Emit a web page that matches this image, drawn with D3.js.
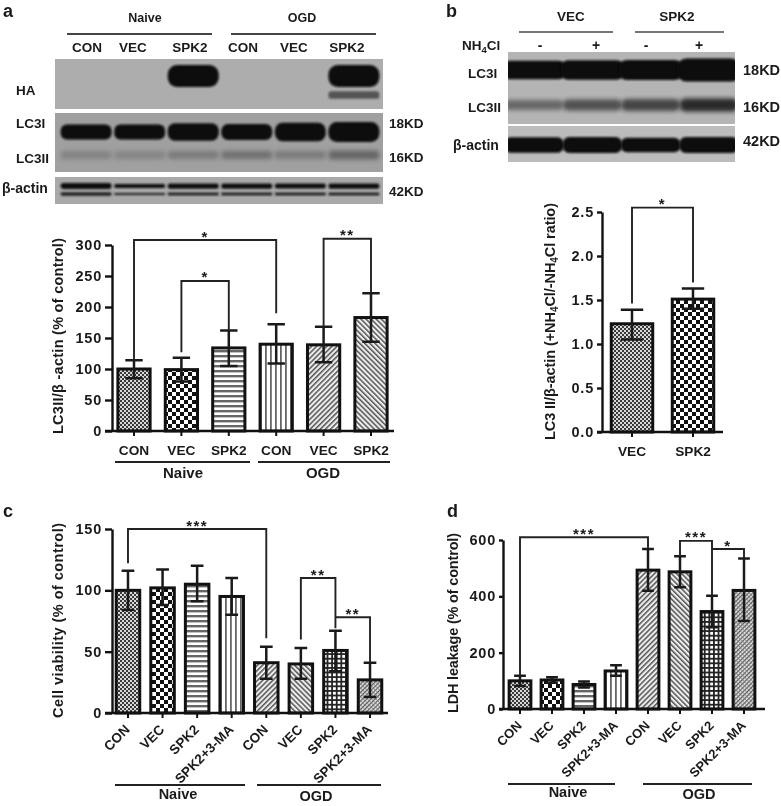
<!DOCTYPE html>
<html>
<head>
<meta charset="utf-8">
<script src="https://cdn.jsdelivr.net/npm/d3@7"></script>
<style>
  html, body { margin: 0; padding: 0; background: #fff; }
  svg { display: block; filter: blur(0.45px); }
  text { font-family: "Liberation Sans", Arial, sans-serif; font-weight: bold; fill: #1a1a1a; }
</style>
</head>
<body>
<div id="chart"></div>
<script>
// ---- data ----
var aCats = ["CON", "VEC", "SPK2", "CON", "VEC", "SPK2"];
var aVals = [100, 99, 134, 140, 139, 183];
var aHigh = [114, 118, 162, 172, 168, 222];
var aLow = [85, 80, 105, 109, 111, 144];
var aTicks = [0, 50, 100, 150, 200, 250, 300];
// from, to, top, left end, right end, stars
var aBrackets = [[0, 3, 308, 114, 190, "*"], [1, 2, 242, 127, 162, "*"], [4, 5, 310, 168, 222, "**"]];

var bCats = ["VEC", "SPK2"];
var bVals = [1.23, 1.51];
var bHigh = [1.39, 1.63];
var bLow = [1.05, 1.40];
var bTicks = [0, 0.5, 1, 1.5, 2, 2.5];
var bBrackets = [[0, 1, 2.55, 1.46, 1.70, "*"]];

var cCats = ["CON", "VEC", "SPK2", "SPK2+3-MA", "CON", "VEC", "SPK2", "SPK2+3-MA"];
var cVals = [100, 102, 105, 95, 41, 40, 51, 27];
var cHigh = [116, 117, 120, 110, 54, 53, 67, 41];
var cLow = [84, 88, 91, 80, 28, 28, 34, 13];
var cTicks = [0, 50, 100, 150];
var cBrackets = [[0, 4, 150, 122, 61, "***"], [5, 6, 110, 60, 69, "**"], [6, 7, 78, 78, 41.5, "**"]];

var dCats = cCats;
var dVals = [100, 103, 87, 135, 493, 487, 346, 421];
var dHigh = [118, 113, 98, 155, 568, 542, 402, 534];
var dLow = [82, 93, 76, 118, 420, 432, 290, 312];
var dTicks = [0, 200, 400, 600];
var dBrackets = [[0, 4, 610, 118, 568, "***"], [5, 6, 597, 542, 402, "***"], [6, 7, 568, 568, 534, "*"]];

// blot band density per lane, 0-1
var blotALanes = ["CON", "VEC", "SPK2", "CON2", "VEC2", "SPK22"];
var blotAHa = [0, 0, 1, 0, 0, 1];
var blotAHaLow = [0, 0, 0, 0, 0, 0.7];
var blotALc3i = [0.75, 0.75, 0.88, 0.8, 0.92, 1];
var blotALc3ii = [0.22, 0.2, 0.28, 0.36, 0.28, 0.45];
var blotAActin = [0.85, 0.55, 0.75, 0.75, 0.7, 0.75];
var blotBLanes = ["VEC-", "VEC+", "SPK2-", "SPK2+"];
var blotBLc3i = [0.8, 0.85, 0.88, 1];
var blotBLc3ii = [0.5, 0.65, 0.72, 0.9];
var blotBActin = [0.9, 0.95, 0.85, 0.95];

var width = 781, height = 806;
var svg = d3.select("#chart").append("svg").attr("width", width).attr("height", height);
var defs = svg.append("defs");

defs.append("filter").attr("id", "soft").attr("x", "-20%").attr("y", "-50%").attr("width", "140%").attr("height", "200%")
    .append("feGaussianBlur").attr("stdDeviation", 1.1);
defs.append("filter").attr("id", "softer").attr("x", "-20%").attr("y", "-80%").attr("width", "140%").attr("height", "260%")
    .append("feGaussianBlur").attr("stdDeviation", 2.2);

// hatch patterns for the bars
function pattern(id, size, bg, draw, rotate) {
    var p = defs.append("pattern").attr("id", id).attr("patternUnits", "userSpaceOnUse")
        .attr("width", size).attr("height", size);
    if (rotate) p.attr("patternTransform", "rotate(" + rotate + ")");
    p.append("rect").attr("width", size).attr("height", size).attr("fill", bg);
    draw(p);
}
function block(p, x, y, w, h, c) {
    p.append("rect").attr("x", x).attr("y", y).attr("width", w).attr("height", h).attr("fill", c);
}
pattern("fine", 4, "#d8d8d8", function(p) { block(p, 0, 0, 2, 2, "#3a3a3a"); block(p, 2, 2, 2, 2, "#3a3a3a"); });
pattern("big", 8, "#fff", function(p) { block(p, 0, 0, 4, 4, "#111"); block(p, 4, 4, 4, 4, "#111"); });
pattern("horiz", 5, "#fff", function(p) { block(p, 0, 0, 5, 2.4, "#666"); });
pattern("vert", 5, "#fff", function(p) { block(p, 0, 0, 1.8, 5, "#666"); });
pattern("slash", 3.6, "#eee", function(p) { block(p, 0, 0, 1.5, 3.6, "#555"); }, 45);
pattern("back", 3.6, "#eee", function(p) { block(p, 0, 0, 1.5, 3.6, "#555"); }, -45);
pattern("grid", 4.6, "#fff", function(p) { block(p, 0, 0, 4.6, 1.8, "#222"); block(p, 0, 0, 1.8, 4.6, "#222"); });
pattern("mesh", 3, "#e2e2e2", function(p) { block(p, 0, 0, 1.1, 3, "#555"); block(p, 0, 0, 3, 0.7, "#777"); }, 45);

var aFills = ["fine", "big", "horiz", "vert", "slash", "back"];
var bFills = ["fine", "big"];
var cFills = ["fine", "big", "horiz", "vert", "slash", "back", "grid", "mesh"];

function label(x, y, str, size, anchor) {
    return svg.append("text").attr("x", x).attr("y", y).attr("font-size", size)
        .attr("text-anchor", anchor || "start").text(str);
}

function barPanel(o) {
    var x = d3.scaleBand().domain(d3.range(o.vals.length)).range(o.xRange).paddingInner(0.32).paddingOuter(0.16);
    var y = d3.scaleLinear().domain(o.domain).range(o.yRange);
    var g = svg.append("g");

    g.selectAll("rect.bar").data(o.vals).join("rect").attr("class", "bar")
        .attr("x", function(d, i) { return x(i); })
        .attr("y", function(d) { return y(d); })
        .attr("width", x.bandwidth())
        .attr("height", function(d) { return y(0) - y(d); })
        .attr("fill", function(d, i) { return "url(#" + o.fills[i] + ")"; })
        .attr("stroke", "#111").attr("stroke-width", 3);

    // error bars
    var capW = x.bandwidth() * 0.27;
    o.vals.forEach(function(v, i) {
        var cx = x(i) + x.bandwidth() / 2;
        var path = d3.path();
        path.moveTo(cx, y(o.low[i])); path.lineTo(cx, y(o.high[i]));
        path.moveTo(cx - capW, y(o.low[i])); path.lineTo(cx + capW, y(o.low[i]));
        path.moveTo(cx - capW, y(o.high[i])); path.lineTo(cx + capW, y(o.high[i]));
        g.append("path").attr("d", path.toString()).attr("fill", "none").attr("stroke", "#1a1a1a").attr("stroke-width", 2.5);
    });

    // significance brackets
    o.brackets.forEach(function(b) {
        var x1 = x(b[0]) + x.bandwidth() / 2, x2 = x(b[1]) + x.bandwidth() / 2;
        g.append("path")
            .attr("d", d3.line()([[x1, y(b[3])], [x1, y(b[2])], [x2, y(b[2])], [x2, y(b[4])]]))
            .attr("fill", "none").attr("stroke", "#222").attr("stroke-width", 1.9);
        g.append("text").attr("x", (x1 + x2) / 2).attr("y", y(b[2]) + 1.5)
            .attr("text-anchor", "middle").attr("font-size", 15).attr("letter-spacing", 1.5).text(b[5]);
    });

    // axes
    var yAxis = g.append("g").attr("transform", "translate(" + o.axisX + ",0)")
        .call(d3.axisLeft(y).tickValues(o.ticks).tickSize(o.tickLen).tickSizeOuter(0).tickFormat(o.format || d3.format("d")));
    yAxis.selectAll("path,line").attr("stroke", "#111").attr("stroke-width", 2.4);
    yAxis.selectAll("text").attr("font-size", 14.5).attr("letter-spacing", 0.8).attr("fill", "#1a1a1a");

    var xAxis = g.append("g").attr("transform", "translate(0," + y(0) + ")")
        .call(d3.axisBottom(x).tickFormat(function(i) { return o.cats[i]; }).tickSize(5).tickPadding(o.rotate ? 7 : 9).tickSizeOuter(0));
    xAxis.select(".domain").remove();
    xAxis.selectAll("line").attr("stroke", "#111").attr("stroke-width", 2);
    var xt = xAxis.selectAll("text").attr("font-size", o.rotate || 13.7).attr("fill", "#1a1a1a");
    if (o.rotate) xt.attr("text-anchor", "end").attr("transform", "rotate(-45)").attr("dx", "-10.5").attr("dy", "2.2");
    g.append("line").attr("x1", o.axisX - o.tickLen).attr("x2", o.baseEnd).attr("y1", y(0)).attr("y2", y(0))
        .attr("stroke", "#111").attr("stroke-width", 2.4);

    // y title
    var title = g.append("text").attr("transform", "translate(" + o.titleX + "," + o.titleY + ") rotate(-90)")
        .attr("font-size", 14.5).attr("textLength", o.titleLen).attr("lengthAdjust", "spacing");
    o.title.forEach(function(part) {
        var t = title.append("tspan").text(part[0]);
        if (part[1]) t.attr("font-size", 10).attr("dy", 3);
        else if (part[2]) t.attr("dy", -3);
    });
}

barPanel({ vals: aVals, high: aHigh, low: aLow, cats: aCats, fills: aFills, brackets: aBrackets, ticks: aTicks,
    domain: [0, 300], yRange: [431, 245], xRange: [110.3, 394.7], axisX: 112, baseEnd: 394, tickLen: 7,
    title: [["LC3II/β -actin (% of control)"]], titleX: 63, titleY: 434, titleLen: 196 });
barPanel({ vals: bVals, high: bHigh, low: bLow, cats: bCats, fills: bFills, brackets: bBrackets, ticks: bTicks,
    domain: [0, 2.5], yRange: [432, 212], xRange: [601.5, 723.5], axisX: 602, baseEnd: 723, tickLen: 5, format: d3.format(".1f"),
    title: [["LC3 II/β-actin (+NH"], ["4", true], ["Cl/-NH", false, true], ["4", true], ["Cl ratio)", false, true]], titleX: 555, titleY: 440, titleLen: 237 });
// rotate holds the font size of the slanted tick labels
barPanel({ vals: cVals, high: cHigh, low: cLow, cats: cCats, fills: cFills, brackets: cBrackets, ticks: cTicks, rotate: 13.5,
    domain: [0, 150], yRange: [713, 529], xRange: [110.7, 387.3], axisX: 112, baseEnd: 388, tickLen: 7,
    title: [["Cell viability (% of control)"]], titleX: 63, titleY: 718, titleLen: 195 });
barPanel({ vals: dVals, high: dHigh, low: dLow, cats: dCats, fills: cFills, brackets: dBrackets, ticks: dTicks, rotate: 13,
    domain: [0, 600], yRange: [709, 540], xRange: [504, 760], axisX: 503, baseEnd: 765, tickLen: 4,
    title: [["LDH leakage (% of control)"]], titleX: 458, titleY: 713, titleLen: 180 });

// blots
function bandRow(xs, density, yc, hScale, opts) {
    opts = opts || {};
    xs.domain().forEach(function(lane, i) {
        var d = density[i];
        if (!d) return;
        var h = hScale(d), w = xs.bandwidth() * (opts.wide || 1);
        var band = svg.append("rect").attr("x", xs(lane) + (xs.bandwidth() - w) / 2).attr("y", yc - h / 2)
            .attr("width", w).attr("height", h).attr("rx", h / 2.4)
            .attr("fill", opts.color || "#0a0a0a")
            .attr("opacity", opts.fade ? d : 1)
            .attr("filter", "url(#" + (opts.blur || "soft") + ")");
        if (opts.clip) band.attr("clip-path", "url(#" + opts.clip + ")");
    });
}
function blotBg(x, y, w, h, c) {
    svg.append("rect").attr("x", x).attr("y", y).attr("width", w).attr("height", h).attr("fill", c);
    defs.append("clipPath").attr("id", "clip" + x + y).append("rect")
        .attr("x", x).attr("y", y).attr("width", w).attr("height", h);
    return "clip" + x + y;
}

var laneA = d3.scaleBand().domain(blotALanes).range([58, 382]).padding(0.05);
blotBg(55, 59, 328, 50, "#adadad");
var clipLc3a = blotBg(55, 113, 328, 59, "#a0a0a0");
blotBg(55, 177, 328, 27, "#a9a9a9");
bandRow(laneA, blotAHa, 76, d3.scaleLinear().domain([0, 1]).range([0, 22]));
bandRow(laneA, blotAHaLow, 95, d3.scaleLinear().domain([0, 1]).range([0, 11]), { color: "#555" });
bandRow(laneA, blotALc3i, 132, d3.scaleLinear().domain([0, 1]).range([0, 20]));
bandRow(laneA, blotALc3ii, 155, d3.scaleLinear().domain([0, 1]).range([8, 10]), { color: "#222", fade: true, blur: "softer", clip: clipLc3a });
bandRow(laneA, blotAActin, 186, d3.scaleLinear().domain([0, 1]).range([0, 7]), { color: "#111" });
bandRow(laneA, blotAActin, 194, d3.scaleLinear().domain([0, 1]).range([0, 4]), { color: "#222" });

var laneB = d3.scaleBand().domain(blotBLanes).range([505, 738]).padding(0);
var clipLc3b = blotBg(508, 52, 227, 72, "#b4b4b4");
var clipActb = blotBg(508, 126, 227, 36, "#bcbcbc");
bandRow(laneB, blotBLc3i, 70, d3.scaleLinear().domain([0, 1]).range([0, 23]), { clip: clipLc3b, wide: 1.1 });
bandRow(laneB, blotBLc3ii, 105, d3.scaleLinear().domain([0, 1]).range([6, 14]), { color: "#1c1c1c", fade: true, blur: "softer", clip: clipLc3b });
bandRow(laneB, blotBActin, 145, d3.scaleLinear().domain([0, 1]).range([0, 17]), { clip: clipActb, wide: 1.02 });

// blot annotation
function rule(x1, x2, y, c) {
    svg.append("line").attr("x1", x1).attr("x2", x2).attr("y1", y).attr("y2", y).attr("stroke", c).attr("stroke-width", 1.8);
}
label(3, 17, "a", 18); label(446, 17, "b", 18); label(3, 517, "c", 18); label(447, 517, "d", 18);

label(145, 22, "Naive", 12.5, "middle"); label(302, 22, "OGD", 12.5, "middle");
rule(67, 212, 34, "#444"); rule(231, 376, 34, "#444");
var blotACenters = [87, 133, 190, 243, 294, 347];
aCats.forEach(function(c, i) { label(blotACenters[i], 52, c, 13.5, "middle"); });
label(16, 95, "HA", 13.5); label(16, 128, "LC3I", 13.5); label(16, 163, "LC3II", 13.5); label(2, 193, "β-actin", 14);
label(389, 128, "18KD", 13.5); label(389, 162, "16KD", 13.5); label(389, 196, "42KD", 13.5);

label(571, 21, "VEC", 13.5, "middle"); label(677, 21, "SPK2", 13.5, "middle");
rule(519, 613, 32, "#777"); rule(635, 724, 32, "#777");
var nh = label(462, 50, "NH", 13.5);
nh.append("tspan").attr("font-size", 9.5).attr("dy", 3).text("4");
nh.append("tspan").attr("dy", -3).text("Cl");
label(540, 50, "-", 14, "middle"); label(596, 50, "+", 14, "middle"); label(646, 50, "-", 14, "middle"); label(699, 50, "+", 14, "middle");
label(468, 78, "LC3I", 13.5); label(468, 112, "LC3II", 13.5); label(453, 150, "β-actin", 14);
label(743, 75, "18KD", 14.5); label(743, 112, "16KD", 14.5); label(743, 146, "42KD", 14.5);

// group rules under the bar charts
rule(115, 250, 462, "#222"); rule(258, 390, 462, "#222");
label(183, 478, "Naive", 15, "middle"); label(323, 478, "OGD", 15, "middle");
rule(115, 245, 785, "#222"); rule(257, 381, 785, "#222");
label(178, 799, "Naive", 14.5, "middle"); label(316, 801, "OGD", 14.5, "middle");
rule(508, 615, 784, "#222"); rule(643, 752, 784, "#222");
label(568, 797, "Naive", 14.5, "middle"); label(699, 799, "OGD", 14.5, "middle");
</script>
</body>
</html>
